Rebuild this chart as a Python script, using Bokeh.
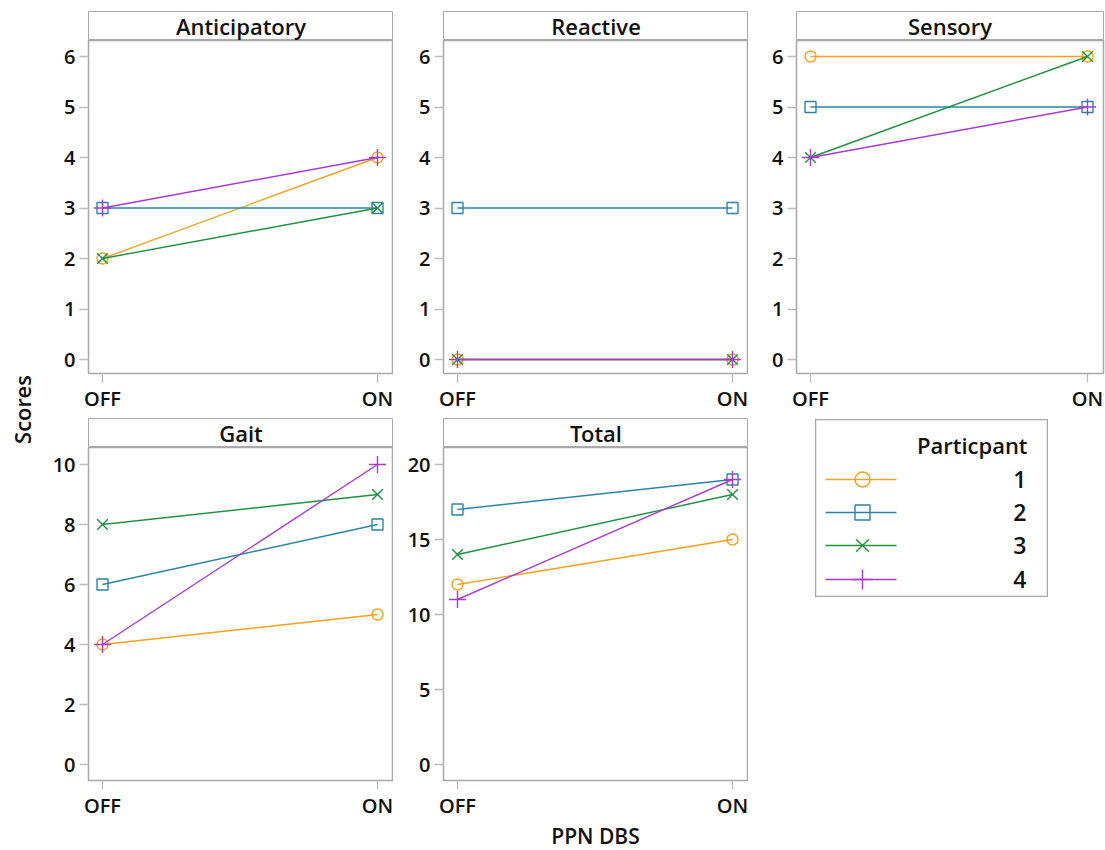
import math
from bokeh.plotting import figure
from bokeh.models import Range1d, FixedTicker, Spacer, Label
from bokeh.layouts import row, column
from bokeh.embed import file_html
from bokeh.resources import INLINE
from bokeh.core.properties import value

# ---------------- data ----------------
phases = ["OFF", "ON"]
participants = ["1", "2", "3", "4"]
panel_names = ["Anticipatory", "Reactive", "Sensory", "Gait", "Total"]

anticipatory_off = [2, 3, 2, 3]
anticipatory_on = [4, 3, 3, 4]
reactive_off = [0, 3, 0, 0]
reactive_on = [0, 3, 0, 0]
sensory_off = [6, 5, 4, 4]
sensory_on = [6, 5, 6, 5]
gait_off = [4, 6, 8, 4]
gait_on = [5, 8, 9, 10]
total_off = [12, 17, 14, 11]
total_on = [15, 19, 18, 19]

ticks_small = [0, 1, 2, 3, 4, 5, 6]
ticks_gait = [0, 2, 4, 6, 8, 10]
ticks_total = [0, 5, 10, 15, 20]

legend_title = "Particpant"
x_label = "PPN DBS"
y_label = "Scores"

# ---------------- style ----------------
FONT = "'Open Sans SemiBold', 'Open Sans'"
colors = ["#F9A11B", "#2B85A3", "#1E9140", "#A83BD0"]
markers = ["circle", "square", "x", "cross"]
msizes = [11, 11, 15, 17]
leg_msizes = [15, 15, 18, 20]
FRAME_COL = "#a9a9a9"
TICK_COL = "#bdbdbd"
TXT = "#111111"
FH = 333
YLAB_W = 38
TOP_BB = 40
BOT_STRIP_TOP = 4
BOT_BB = 38


def strip(name, fw, lb, rb, top):
    s = figure(frame_width=fw, frame_height=29, min_border_left=lb, min_border_right=rb,
               min_border_top=top, min_border_bottom=0, x_range=Range1d(0, 1), y_range=Range1d(0, 1),
               x_axis_type=None, y_axis_type=None, output_backend="svg", toolbar_location=None)
    s.outline_line_color = FRAME_COL
    s.outline_line_width = 1.0
    s.grid.visible = False
    s.add_layout(Label(x=0.5, y=0.5, text=name, text_align="center", text_baseline="middle",
                       text_font=FONT, text_font_size="22px", text_color=TXT))
    return s


def panel(off, on, yr, ticks, fw, lb, rb, bb):
    p = figure(frame_width=fw, frame_height=FH, min_border_left=lb, min_border_right=rb,
               min_border_top=0, min_border_bottom=bb,
               x_range=Range1d(-14 / (fw - 30), 1 + 16 / (fw - 30)), y_range=Range1d(*yr),
               output_backend="svg", toolbar_location=None)
    p.outline_line_color = FRAME_COL
    p.outline_line_width = 1.5
    p.grid.visible = False
    p.xaxis.ticker = FixedTicker(ticks=[0, 1])
    p.xaxis.major_label_overrides = {0: phases[0], 1: phases[1]}
    p.yaxis.ticker = FixedTicker(ticks=ticks)
    for ax in (p.xaxis, p.yaxis):
        ax.axis_line_color = None
        ax.major_tick_line_color = TICK_COL
        ax.major_tick_line_width = 1.3
        ax.major_tick_out = 9
        ax.major_tick_in = 0
        ax.minor_tick_line_color = None
        ax.major_label_text_font = FONT
        ax.major_label_text_font_size = "20px"
        ax.major_label_text_color = TXT
    p.xaxis.major_label_standoff = 2
    p.yaxis.major_label_standoff = 4
    for i in range(len(participants)):
        xs = [0, 1]
        ys = [off[i], on[i]]
        p.line(xs, ys, line_color=colors[i], line_width=1.4)
        p.scatter(xs, ys, marker=markers[i], size=msizes[i], line_color=colors[i],
                  fill_color=None, line_width=1.4)
    return p


top_rng = (-14 / 50.5, 6 + 16 / 50.5)
gait_rng = (-16 / 30.0, 10 + 17 / 30.0)
total_rng = (-16 / 15.0, 20 + 17 / 15.0)

FW = [305, 305, 307]
LB = [88 - YLAB_W, 50, 48]
RB = [0, 0, 2]

# top row
a = column(strip(panel_names[0], FW[0], LB[0], RB[0], 11),
           panel(anticipatory_off, anticipatory_on, top_rng, ticks_small, FW[0], LB[0], RB[0], TOP_BB), spacing=0)
r = column(strip(panel_names[1], FW[1], LB[1], RB[1], 11),
           panel(reactive_off, reactive_on, top_rng, ticks_small, FW[1], LB[1], RB[1], TOP_BB), spacing=0)
s = column(strip(panel_names[2], FW[2], LB[2], RB[2], 11),
           panel(sensory_off, sensory_on, top_rng, ticks_small, FW[2], LB[2], RB[2], TOP_BB), spacing=0)

g = column(strip(panel_names[3], FW[0], LB[0], RB[0], BOT_STRIP_TOP),
           panel(gait_off, gait_on, gait_rng, ticks_gait, FW[0], LB[0], RB[0], BOT_BB), spacing=0)
t = column(strip(panel_names[4], FW[1], LB[1], RB[1], BOT_STRIP_TOP),
           panel(total_off, total_on, total_rng, ticks_total, FW[1], LB[1], RB[1], BOT_BB), spacing=0)

# legend
leg = figure(frame_width=233, frame_height=178, min_border=0, x_range=Range1d(0, 233),
             y_range=Range1d(178, 0), x_axis_type=None, y_axis_type=None,
             output_backend="svg", toolbar_location=None)
leg.outline_line_color = FRAME_COL
leg.outline_line_width = 1.5
leg.grid.visible = False
leg.text(x=[212], y=[25], text=[legend_title], text_align="right", text_baseline="middle",
         text_font=value(FONT), text_font_size="22px", text_color=TXT)
row_y = [60, 93, 126, 160]
for i in range(len(participants)):
    leg.line([10, 81], [row_y[i], row_y[i]], line_color=colors[i], line_width=1.4)
    leg.scatter([47], [row_y[i]], marker=markers[i], size=leg_msizes[i], line_color=colors[i],
                fill_color=None, line_width=1.4)
    leg.text(x=[211], y=[row_y[i]], text=[participants[i]], text_align="right",
             text_baseline="middle", text_font=value(FONT), text_font_size="23px", text_color=TXT)

top_row_h = 11 + 29 + FH + TOP_BB
col3_x = YLAB_W + LB[0] + FW[0] + RB[0] + LB[1] + FW[1] + RB[1]
leg_block = row(Spacer(width=815 - col3_x, height=10),
                column(Spacer(width=10, height=418 - top_row_h), leg, spacing=0), spacing=0)

grid = column(row(a, r, s, spacing=0), row(g, t, leg_block, spacing=0), spacing=0)

# Scores label
H = top_row_h + BOT_STRIP_TOP + 29 + FH + BOT_BB
ylab = figure(width=YLAB_W, height=H, min_border=0, x_range=Range1d(0, YLAB_W), y_range=Range1d(H, 0),
              x_axis_type=None, y_axis_type=None, output_backend="svg", toolbar_location=None)
ylab.outline_line_color = None
ylab.grid.visible = False
ylab.add_layout(Label(x=21, y=409, text=y_label, angle=math.pi / 2, text_align="center",
                      text_baseline="middle", text_font=FONT, text_font_size="22px", text_color=TXT))

XH = 30
xlab = figure(width=1105, height=XH, min_border=0, x_range=Range1d(0, 1105), y_range=Range1d(XH, 0),
              x_axis_type=None, y_axis_type=None, output_backend="svg", toolbar_location=None)
xlab.outline_line_color = None
xlab.grid.visible = False
xlab.add_layout(Label(x=595, y=14, text=x_label, text_align="center", text_baseline="middle",
                      text_font=FONT, text_font_size="21px", text_color=TXT))

layout = column(row(ylab, grid, spacing=0), xlab, spacing=0)

open("out.html", "w").write(file_html(layout, INLINE))
